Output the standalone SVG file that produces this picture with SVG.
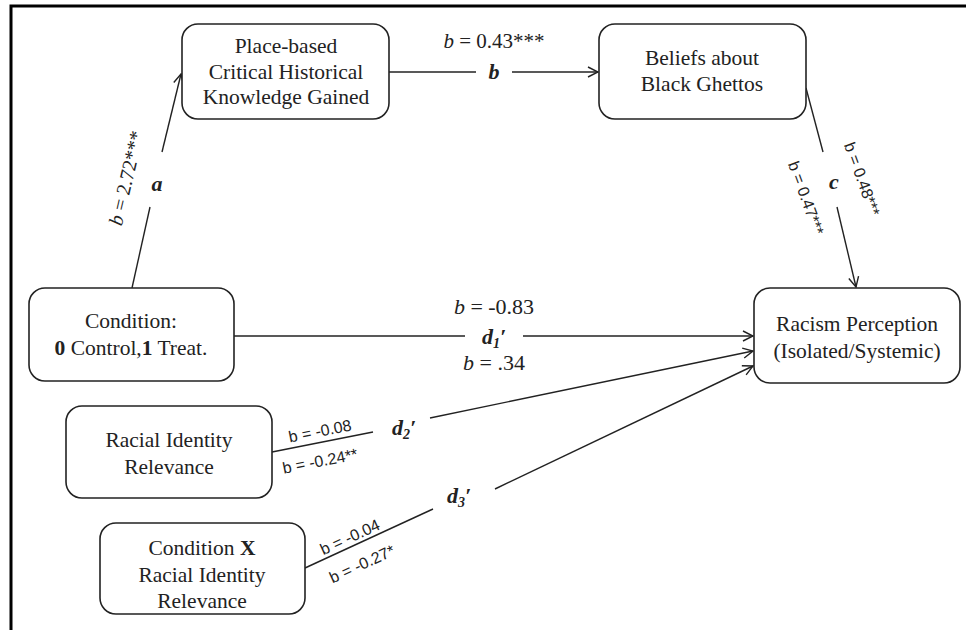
<svg xmlns="http://www.w3.org/2000/svg" width="966" height="630" viewBox="0 0 966 630">
<defs>
<marker id="arr" viewBox="0 0 12 12" refX="11" refY="6" markerWidth="12" markerHeight="12" markerUnits="userSpaceOnUse" orient="auto">
<path d="M1,1 L11,6 L1,11" fill="none" stroke="#222" stroke-width="1.4"/>
</marker>
<style>
.box{fill:#fff;stroke:#222;stroke-width:1.6}
.t{font-family:"Liberation Serif","DejaVu Serif",serif;font-size:21.5px;fill:#222;text-anchor:middle}
.lab{font-family:"Liberation Serif","DejaVu Serif",serif;font-size:21px;fill:#222;text-anchor:middle}
.sl{font-family:"Liberation Sans",Arial,sans-serif;font-size:16px;fill:#222;text-anchor:middle;dominant-baseline:central}
.p{font-family:"Liberation Serif","DejaVu Serif",serif;font-size:22px;font-weight:bold;font-style:italic;fill:#222;text-anchor:middle}
.c{fill:none;stroke:#222;stroke-width:1.4}
.sub{font-size:14px}
</style>
</defs>
<rect width="966" height="630" fill="#fff"/>
<path d="M11,630 V6 H966" fill="none" stroke="#000" stroke-width="3"/>

<g id="connectors">
<line class="c" x1="132" y1="288" x2="150" y2="207"/>
<line class="c" x1="162" y1="152" x2="181" y2="74" marker-end="url(#arr)"/>
<line class="c" x1="389" y1="72" x2="476" y2="72"/>
<line class="c" x1="512" y1="72" x2="598" y2="72" marker-end="url(#arr)"/>
<line class="c" x1="806" y1="88" x2="823" y2="152"/>
<line class="c" x1="837" y1="207" x2="856" y2="287" marker-end="url(#arr)"/>
<line class="c" x1="234" y1="336" x2="465" y2="336"/>
<line class="c" x1="523" y1="336" x2="753" y2="336" marker-end="url(#arr)"/>
<line class="c" x1="272" y1="452" x2="373" y2="432"/>
<line class="c" x1="430" y1="418" x2="753" y2="351" marker-end="url(#arr)"/>
<line class="c" x1="305" y1="568" x2="433" y2="509"/>
<line class="c" x1="495" y1="489" x2="753" y2="366" marker-end="url(#arr)"/>

<text class="lab" x="494" y="48"><tspan font-style="italic">b</tspan> = 0.43***</text>
<text class="p" x="494" y="79">b</text>
<text class="lab" style="font-size:20px" transform="translate(126,178) rotate(-76.7)" dominant-baseline="central"><tspan font-style="italic">b</tspan> = 2.72***</text>
<text class="p" x="157" y="191">a</text>
<text class="p" x="834" y="189">c</text>
<text class="sl" transform="translate(806,198) rotate(70)">b = 0.47***</text>
<text class="sl" transform="translate(862,179) rotate(70)">b = 0.48***</text>
<text class="lab" x="494" y="314" style="font-size:22px"><tspan font-style="italic">b</tspan> = -0.83</text>
<text class="p" x="494" y="344">d<tspan class="sub" dy="4">1</tspan><tspan dy="-4">′</tspan></text>
<text class="lab" x="494" y="370" style="font-size:22px"><tspan font-style="italic">b</tspan> = .34</text>
<text class="sl" transform="translate(320,431) rotate(-11)">b = -0.08</text>
<text class="sl" transform="translate(320,461) rotate(-11)">b = -0.24**</text>
<text class="p" x="404" y="435">d<tspan class="sub" dy="4">2</tspan><tspan dy="-4">′</tspan></text>
<text class="sl" transform="translate(350,537) rotate(-24.5)">b = -0.04</text>
<text class="sl" transform="translate(362,564) rotate(-24.5)">b = -0.27*</text>
<text class="p" x="459" y="503">d<tspan class="sub" dy="4">3</tspan><tspan dy="-4">′</tspan></text>
</g>

<g id="place">
<rect class="box" x="182" y="24" width="207" height="95" rx="16"/>
<text class="t" x="286" y="53">Place-based</text>
<text class="t" x="286" y="79">Critical Historical</text>
<text class="t" x="286" y="104">Knowledge Gained</text>
</g>
<g id="beliefs">
<rect class="box" x="599" y="24" width="207" height="95" rx="16"/>
<text class="t" x="702" y="65">Beliefs about</text>
<text class="t" x="702" y="91">Black Ghettos</text>
</g>
<g id="condition">
<rect class="box" x="29" y="288" width="205" height="93" rx="16"/>
<text class="t" x="131" y="328">Condition:</text>
<text class="t" x="131" y="355"><tspan font-weight="bold">0</tspan> Control,<tspan font-weight="bold">1</tspan> Treat.</text>
</g>
<g id="racism">
<rect class="box" x="754" y="288" width="206" height="95" rx="16"/>
<text class="t" x="857" y="331">Racism Perception</text>
<text class="t" x="857" y="358">(Isolated/Systemic)</text>
</g>
<g id="racial">
<rect class="box" x="66" y="406" width="206" height="92" rx="16"/>
<text class="t" x="169" y="447">Racial Identity</text>
<text class="t" x="169" y="474">Relevance</text>
</g>
<g id="conditionX">
<rect class="box" x="100" y="523" width="205" height="91" rx="16"/>
<text class="t" x="202" y="555">Condition <tspan font-weight="bold">X</tspan></text>
<text class="t" x="202" y="582">Racial Identity</text>
<text class="t" x="202" y="608">Relevance</text>
</g>
</svg>
